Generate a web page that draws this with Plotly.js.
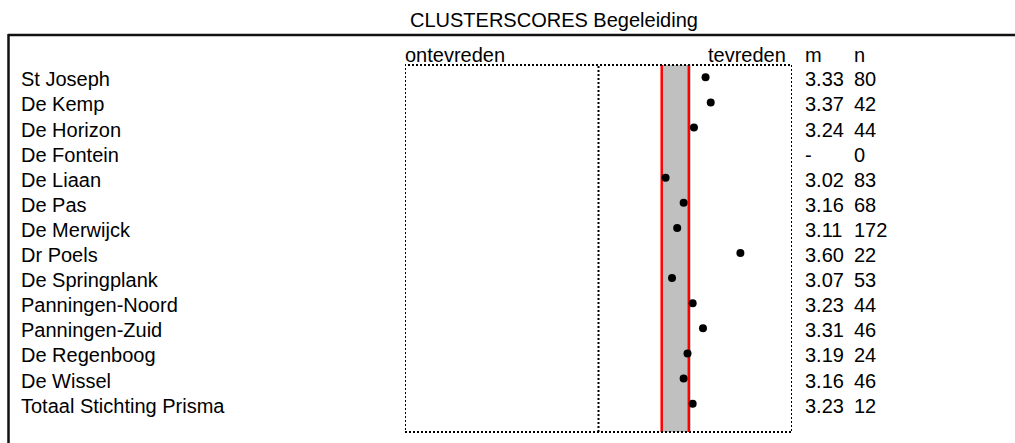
<!DOCTYPE html>
<html>
<head>
<meta charset="utf-8">
<script src="https://cdn.plot.ly/plotly-3.0.1.min.js"></script>
<style>html,body{margin:0;padding:0;background:#fff;}#chart{width:1015px;height:443px;}</style>
</head>
<body>
<div id="chart"></div>
<script>
// ---- data ----
var chartTitle = "CLUSTERSCORES Begeleiding";
var categories = ["St Joseph","De Kemp","De Horizon","De Fontein","De Liaan","De Pas","De Merwijck","Dr Poels","De Springplank","Panningen-Noord","Panningen-Zuid","De Regenboog","De Wissel","Totaal Stichting Prisma"];
var means = [3.33, 3.37, 3.24, null, 3.02, 3.16, 3.11, 3.60, 3.07, 3.23, 3.31, 3.19, 3.16, 3.23];
var counts = [80, 42, 44, 0, 83, 68, 172, 22, 53, 44, 46, 24, 46, 12];
var scaleMin = 1, scaleMid = 2.5, scaleMax = 4;
var bandLow = 2.99, bandHigh = 3.20;
var leftLabel = "ontevreden", rightLabel = "tevreden", mHeader = "m", nHeader = "n";

// ---- layout helpers ----
var W = 1015, H = 443, L = 405, R = 792, T = 65, B = 432;
function px(x){ return (x - L) / (R - L); }
function py(y){ return (B - y) / (B - T); }
var FONT = "Liberation Sans, Arial, Helvetica, sans-serif";
var fs = 20;

var idx = categories.map(function(_, i){ return i; });

var traces = [{
  type: "scatter", mode: "markers",
  x: means, y: idx,
  marker: {color: "#000", size: 8},
  hoverinfo: "skip", showlegend: false, cliponaxis: false
}];

var ann = [];
ann.push({text: chartTitle, xref: "paper", yref: "paper", x: px(554), y: py(20), xanchor: "center", yanchor: "middle", showarrow: false, font: {family: FONT, size: fs, color: "#000"}});
ann.push({text: leftLabel, xref: "x", yref: "paper", x: scaleMin, y: py(55), xanchor: "left", yanchor: "middle", showarrow: false, xshift: -2, font: {family: FONT, size: fs, color: "#000"}});
ann.push({text: rightLabel, xref: "paper", yref: "paper", x: px(788), y: py(55), xanchor: "right", yanchor: "middle", showarrow: false, font: {family: FONT, size: fs, color: "#000"}});
ann.push({text: mHeader, xref: "paper", yref: "paper", x: px(803), y: py(55), xanchor: "left", yanchor: "middle", showarrow: false, font: {family: FONT, size: fs, color: "#000"}});
ann.push({text: nHeader, xref: "paper", yref: "paper", x: px(852), y: py(55), xanchor: "left", yanchor: "middle", showarrow: false, font: {family: FONT, size: fs, color: "#000"}});
categories.forEach(function(c, i){
  ann.push({text: c, xref: "paper", yref: "y", x: px(19), y: i, xanchor: "left", yanchor: "middle", showarrow: false, yshift: -2, font: {family: FONT, size: fs, color: "#000"}});
  ann.push({text: means[i] === null ? "-" : means[i].toFixed(2), xref: "paper", yref: "y", x: px(803), y: i, xanchor: "left", yanchor: "middle", showarrow: false, yshift: -2, font: {family: FONT, size: fs, color: "#000"}});
  ann.push({text: String(counts[i]), xref: "paper", yref: "y", x: px(852), y: i, xanchor: "left", yanchor: "middle", showarrow: false, yshift: -2, font: {family: FONT, size: fs, color: "#000"}});
});

var shapes = [
  // grey band
  {type: "rect", xref: "x", yref: "paper", x0: bandLow, x1: bandHigh + 0.015, y0: 0, y1: 1, fillcolor: "#c0c0c0", line: {width: 0}, layer: "below"},
  // red lines
  {type: "line", xref: "x", yref: "paper", x0: bandLow, x1: bandLow, y0: 0, y1: 1, line: {color: "#ff0000", width: 2.5}, layer: "below"},
  {type: "line", xref: "x", yref: "paper", x0: bandHigh, x1: bandHigh, y0: 0, y1: 1, line: {color: "#ff0000", width: 2.5}, layer: "below"},
  // dotted frame
  {type: "rect", xref: "x", yref: "paper", x0: scaleMin, x1: scaleMax, y0: 0, y1: 1, line: {color: "#000", width: 2, dash: "2px,2px"}, fillcolor: "rgba(0,0,0,0)"},
  {type: "line", xref: "x", yref: "paper", x0: scaleMid, x1: scaleMid, y0: 0, y1: 1, line: {color: "#000", width: 2, dash: "2px,2px"}},
  // outer box
  {type: "line", xref: "paper", yref: "paper", x0: px(8), x1: px(1016), y0: py(35), y1: py(35), line: {color: "#111", width: 2.5}},
  {type: "line", xref: "paper", yref: "paper", x0: px(8.5), x1: px(8.5), y0: py(34), y1: py(444), line: {color: "#111", width: 2.5}}
];

var layout = {
  width: W, height: H,
  margin: {l: L, r: W - R, t: T, b: H - B, pad: 0},
  paper_bgcolor: "#fff", plot_bgcolor: "rgba(0,0,0,0)",
  showlegend: false,
  xaxis: {range: [scaleMin, scaleMax], showgrid: false, zeroline: false, showticklabels: false, ticks: "", showline: false, fixedrange: true},
  yaxis: {range: [14.13, -0.49], showgrid: false, zeroline: false, showticklabels: false, ticks: "", showline: false, fixedrange: true},
  annotations: ann,
  shapes: shapes,
  font: {family: FONT, size: fs, color: "#000"}
};

Plotly.newPlot("chart", traces, layout, {staticPlot: true, displayModeBar: false});
</script>
</body>
</html>
